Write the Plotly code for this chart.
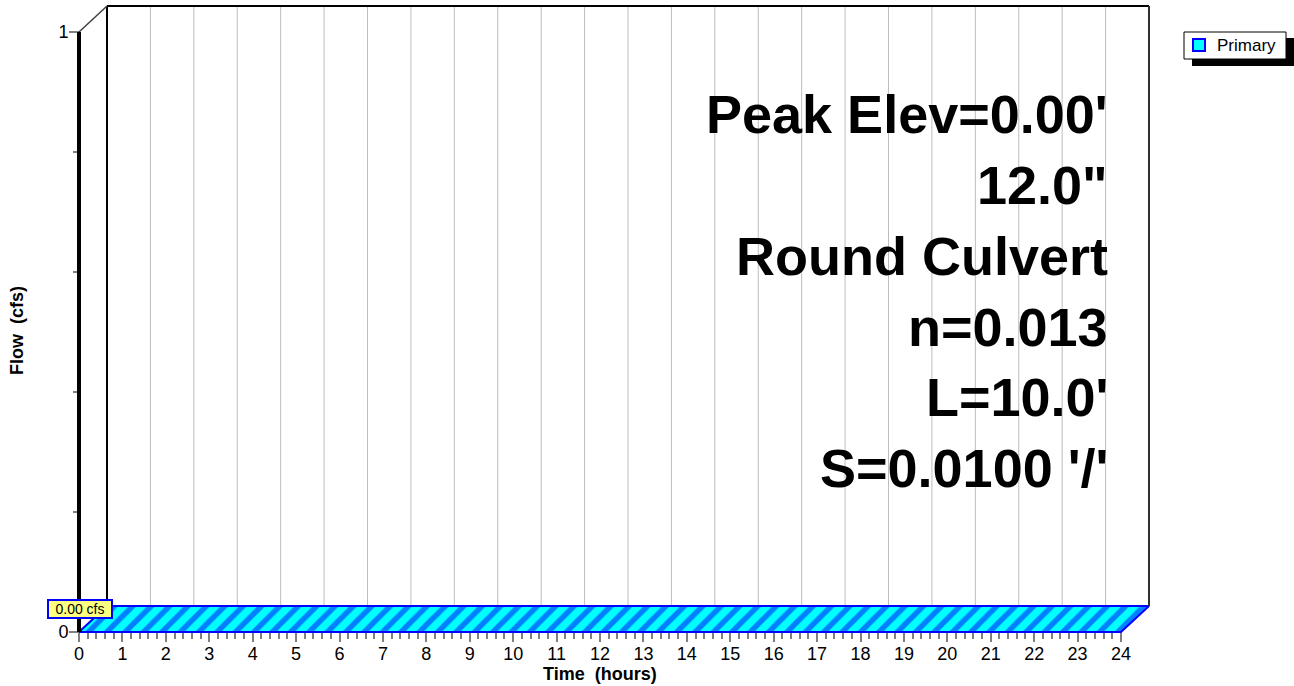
import plotly.graph_objects as go

# ---- Primary outflow hydrograph ---------------------------------------
time_hours = [0, 1, 2, 3, 4, 5, 6, 7, 8, 9, 10, 11, 12,
              13, 14, 15, 16, 17, 18, 19, 20, 21, 22, 23, 24]
primary_flow = [0.00, 0.00, 0.00, 0.00, 0.00, 0.00, 0.00, 0.00, 0.00,
                0.00, 0.00, 0.00, 0.00, 0.00, 0.00, 0.00, 0.00, 0.00,
                0.00, 0.00, 0.00, 0.00, 0.00, 0.00, 0.00]
series_name = "Primary"
peak_time = 0.0
peak_flow = 0.00
peak_label = "0.00 cfs"

x_tick_vals = time_hours
x_tick_labels = [str(h) for h in time_hours]
y_tick_vals = [0, 1]
y_tick_labels = ["0", "1"]
y_minor_vals = [0.2, 0.4, 0.6, 0.8]

culvert_notes = ["Peak Elev=0.00'", '12.0"', "Round Culvert",
                 "n=0.013", "L=10.0'", "S=0.0100 '/'"]
x_title = "Time\u00a0 (hours)"
y_title = "Flow\u00a0 (cfs)"

# ---- layout geometry ----------------------------------------------------
W, H = 1294, 686
X_END, Y_END = 24, 1
SX = 1042 / 24.0        # px per hour
SY = 600.0              # px per cfs
X0_PX, Y0_PX = 79, 632  # pixel of the front origin
PAD = 4                 # room so edge strokes are not clipped
DEPTH_X = 28 / SX       # 3-D depth offset in hours
DEPTH_Y = 26 / SY       # 3-D depth offset in cfs
FONT = "Liberation Sans, Arial, sans-serif"

x_lo, x_hi = -PAD / SX, X_END + DEPTH_X + PAD / SX
y_lo, y_hi = -PAD / SY, Y_END + DEPTH_Y + PAD / SY
ML = X0_PX - PAD
MR = W - (X0_PX + (X_END + DEPTH_X) * SX + PAD)
MT = Y0_PX - (Y_END + DEPTH_Y) * SY - PAD
MB = H - Y0_PX - PAD
PW = W - ML - MR
PH = H - MT - MB


def px(xp):
    return (xp - ML) / PW


def py(yp):
    return (H - MB - yp) / PH


# ribbon: front edge of the series plus the same edge pushed back in depth
rib_x = time_hours + [t + DEPTH_X for t in reversed(time_hours)] + [time_hours[0]]
rib_y = primary_flow + [q + DEPTH_Y for q in reversed(primary_flow)] + [primary_flow[0]]

fig = go.Figure()
fig.add_trace(go.Scatter(
    x=rib_x, y=rib_y, mode="lines", fill="toself",
    line=dict(color="#0000ff", width=2),
    fillcolor="#00ffff",
    fillpattern=dict(shape="/", fgcolor="#0000ff", bgcolor="#00ffff",
                     size=13, solidity=0.42),
    name=series_name, showlegend=False, hoverinfo="skip",
))

shapes = []
# vertical grid on the back wall
for h in x_tick_vals:
    shapes.append(dict(type="line", xref="x", yref="y", layer="below",
                       x0=h + DEPTH_X, x1=h + DEPTH_X, y0=DEPTH_Y, y1=Y_END + DEPTH_Y,
                       line=dict(color="#bdbdbd", width=1)))
# back wall frame
shapes += [
    dict(type="line", xref="x", yref="y", x0=DEPTH_X, x1=DEPTH_X,
         y0=DEPTH_Y, y1=Y_END + DEPTH_Y, line=dict(color="#000000", width=2)),
    dict(type="line", xref="x", yref="y", x0=DEPTH_X, x1=X_END + DEPTH_X,
         y0=Y_END + DEPTH_Y, y1=Y_END + DEPTH_Y, line=dict(color="#000000", width=2)),
    dict(type="line", xref="x", yref="y", x0=X_END + DEPTH_X, x1=X_END + DEPTH_X,
         y0=DEPTH_Y, y1=Y_END + DEPTH_Y, line=dict(color="#303030", width=2)),
    dict(type="line", xref="x", yref="y", x0=0, x1=DEPTH_X,
         y0=Y_END, y1=Y_END + DEPTH_Y, line=dict(color="#404040", width=1.5)),
    # front flow axis
    dict(type="line", xref="x", yref="y", x0=0, x1=0, y0=0, y1=Y_END,
         line=dict(color="#000000", width=4)),
]

# legend box with drop shadow
shapes += [
    dict(type="rect", xref="paper", yref="paper", x0=px(1192), x1=px(1296),
         y0=py(66), y1=py(38), fillcolor="#000000", line=dict(width=0)),
    dict(type="rect", xref="paper", yref="paper", x0=px(1184), x1=px(1286),
         y0=py(59), y1=py(32), fillcolor="#ffffff",
         line=dict(color="#000000", width=1)),
    dict(type="rect", xref="paper", yref="paper", x0=px(1193), x1=px(1205),
         y0=py(51), y1=py(39), fillcolor="#00ffff",
         line=dict(color="#0000ff", width=2)),
]

annotations = [
    dict(text=series_name, xref="paper", yref="paper", x=px(1215), y=py(45.5),
         xanchor="left", yanchor="middle", showarrow=False,
         font=dict(family=FONT, size=17, color="#000000")),
    dict(text=peak_label, xref="x", yref="y", x=peak_time + DEPTH_X,
         y=peak_flow + DEPTH_Y, xanchor="right", yanchor="middle",
         xshift=6, yshift=-3, showarrow=False, width=62, height=16,
         bgcolor="#ffff80", bordercolor="#0000ff", borderwidth=2, borderpad=0,
         font=dict(family=FONT, size=14, color="#000000")),
    dict(text=x_title, xref="paper", yref="paper", x=px(600), y=py(674),
         xanchor="center", yanchor="middle", showarrow=False,
         font=dict(family=FONT, size=18, color="#000000", weight="bold")),
    dict(text=y_title, xref="paper", yref="paper", x=px(17), y=py(331),
         xanchor="center", yanchor="middle", showarrow=False, textangle=-90,
         font=dict(family=FONT, size=18, color="#000000", weight="bold")),
]

NOTE_SIZE = 54
first_baseline, line_step = 133, 70.8
for i, note in enumerate(culvert_notes):
    base = first_baseline + i * line_step
    annotations.append(dict(
        text=note, xref="paper", yref="paper", x=px(1110),
        y=py(base - 0.3465 * NOTE_SIZE), xanchor="right", yanchor="middle",
        showarrow=False,
        font=dict(family=FONT, size=NOTE_SIZE, color="#000000", weight="bold")))

x_minor_vals = [round(h + k * 0.2, 1) for h in time_hours[:-1] for k in range(1, 5)]

fig.update_layout(
    width=W, height=H, margin=dict(l=ML, r=MR, t=MT, b=MB, pad=0, autoexpand=False),
    paper_bgcolor="#ffffff", plot_bgcolor="#ffffff",
    showlegend=False,
    shapes=shapes, annotations=annotations,
    font=dict(family=FONT, color="#000000"),
    xaxis=dict(range=[x_lo, x_hi], anchor="free", position=PAD / PH,
               tickmode="array", tickvals=x_tick_vals, ticktext=x_tick_labels,
               ticks="outside", ticklen=9, tickwidth=1.5, tickcolor="#808080",
               ticklabelstandoff=-4,
               minor=dict(tickmode="array", tickvals=x_minor_vals, ticks="outside",
                          ticklen=6, tickwidth=1.5, tickcolor="#808080"),
               tickfont=dict(family=FONT, size=18, color="#000000"),
               showgrid=False, zeroline=False, showline=False,
               fixedrange=True, automargin=False),
    yaxis=dict(range=[y_lo, y_hi], anchor="free", position=PAD / PW,
               tickmode="array", tickvals=y_tick_vals, ticktext=y_tick_labels,
               ticks="outside", ticklen=10, tickwidth=1.5, tickcolor="#808080",
               ticklabelstandoff=-3,
               minor=dict(tickmode="array", tickvals=y_minor_vals, ticks="outside",
                          ticklen=6, tickwidth=1.5, tickcolor="#808080"),
               tickfont=dict(family=FONT, size=18, color="#000000"),
               showgrid=False, zeroline=False, showline=False,
               fixedrange=True, automargin=False),
)

fig.write_html("out.html", config={"displayModeBar": False})
